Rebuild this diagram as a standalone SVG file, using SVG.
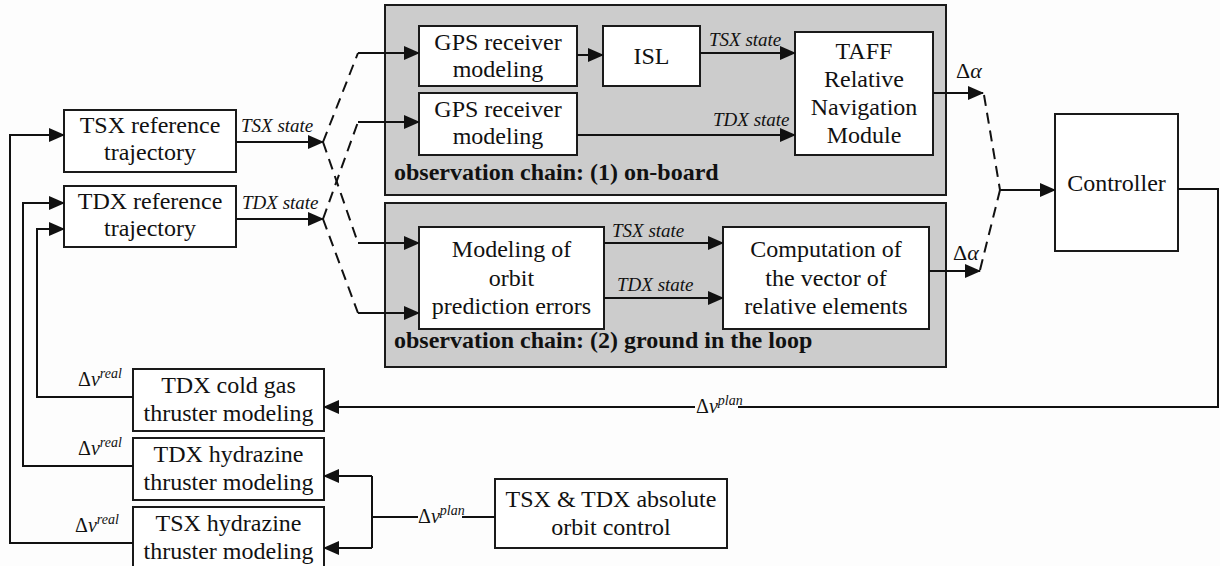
<svg xmlns="http://www.w3.org/2000/svg" width="1220" height="566" viewBox="0 0 1220 566">
<style>
.bg{fill:#fdfdfd}
.panel{fill:#cccccc;stroke:#1a1a1a;stroke-width:2}
.box{fill:#ffffff;stroke:#1a1a1a;stroke-width:2}
.t{font-family:"Liberation Serif","Times New Roman",serif;font-size:24px;fill:#111;text-anchor:middle}
.lbl{font-family:"Liberation Serif","Times New Roman",serif;font-size:19px;font-style:italic;fill:#111}
.bold{font-family:"Liberation Serif","Times New Roman",serif;font-size:24px;font-weight:bold;fill:#111}
.sym{font-family:"Liberation Serif","Times New Roman",serif;font-size:20px;fill:#111}
.da{font-family:"Liberation Serif","Times New Roman",serif;font-size:22px;fill:#111}
.ln{fill:none;stroke:#111;stroke-width:2}
.dash{fill:none;stroke:#111;stroke-width:2;stroke-dasharray:11 7}
</style>
<defs>
<marker id="ah" markerUnits="userSpaceOnUse" markerWidth="16" markerHeight="14" refX="15" refY="7" orient="auto">
<path d="M0,0 L16,7 L0,14 Z" fill="#111"/>
</marker>
</defs>
<rect class="bg" x="0" y="0" width="1220" height="566"/>

<g id="panel1">
<rect class="panel" x="385" y="5" width="561" height="190"/>
<text class="bold" x="394" y="180">observation chain: (1) on-board</text>
</g>
<g id="panel2">
<rect class="panel" x="385" y="203" width="561" height="164"/>
<text class="bold" x="394" y="348">observation chain: (2) ground in the loop</text>
</g>

<g id="tsxref">
<rect class="box" x="64" y="110" width="172" height="62"/>
<text class="t" x="150" y="133">TSX reference</text>
<text class="t" x="150" y="160">trajectory</text>
</g>
<g id="tdxref">
<rect class="box" x="64" y="186" width="172" height="61"/>
<text class="t" x="150" y="209">TDX reference</text>
<text class="t" x="150" y="236">trajectory</text>
</g>
<g id="gps1">
<rect class="box" x="419" y="26" width="158" height="60"/>
<text class="t" x="498" y="50">GPS receiver</text>
<text class="t" x="498" y="77">modeling</text>
</g>
<g id="isl">
<rect class="box" x="603" y="26" width="97" height="60"/>
<text class="t" x="651.5" y="64">ISL</text>
</g>
<g id="gps2">
<rect class="box" x="419" y="93" width="158" height="62"/>
<text class="t" x="498" y="117">GPS receiver</text>
<text class="t" x="498" y="144">modeling</text>
</g>
<g id="taff">
<rect class="box" x="795" y="32" width="138" height="123"/>
<text class="t" x="864" y="59">TAFF</text>
<text class="t" x="864" y="87">Relative</text>
<text class="t" x="864" y="115">Navigation</text>
<text class="t" x="864" y="143">Module</text>
</g>
<g id="modeling">
<rect class="box" x="419" y="227" width="185" height="102"/>
<text class="t" x="511.5" y="257">Modeling of</text>
<text class="t" x="511.5" y="286">orbit</text>
<text class="t" x="511.5" y="314">prediction errors</text>
</g>
<g id="computation">
<rect class="box" x="723" y="227" width="206" height="102"/>
<text class="t" x="826" y="257">Computation of</text>
<text class="t" x="826" y="286">the vector of</text>
<text class="t" x="826" y="314">relative elements</text>
</g>
<g id="controller">
<rect class="box" x="1055" y="114" width="123" height="137"/>
<text class="t" x="1116.5" y="191">Controller</text>
</g>
<g id="coldgas">
<rect class="box" x="133" y="369" width="191" height="62"/>
<text class="t" x="228.5" y="393">TDX cold gas</text>
<text class="t" x="228.5" y="421">thruster modeling</text>
</g>
<g id="tdxhyd">
<rect class="box" x="133" y="438" width="191" height="62"/>
<text class="t" x="228.5" y="462">TDX hydrazine</text>
<text class="t" x="228.5" y="490">thruster modeling</text>
</g>
<g id="tsxhyd">
<rect class="box" x="133" y="507" width="191" height="64"/>
<text class="t" x="228.5" y="531">TSX hydrazine</text>
<text class="t" x="228.5" y="559">thruster modeling</text>
</g>
<g id="absctrl">
<rect class="box" x="495" y="479" width="232" height="69"/>
<text class="t" x="611" y="507">TSX &amp; TDX absolute</text>
<text class="t" x="611" y="535">orbit control</text>
</g>

<g id="connectors">
<line class="ln" x1="236" y1="142" x2="323" y2="142" marker-end="url(#ah)"/>
<line class="ln" x1="236" y1="219" x2="323" y2="219" marker-end="url(#ah)"/>
<polyline class="dash" points="323,142 358,53"/>
<polyline class="dash" points="323,142 358,243"/>
<polyline class="dash" points="323,219 358,122"/>
<polyline class="dash" points="323,219 358,313"/>
<line class="ln" x1="358" y1="53" x2="419" y2="53" marker-end="url(#ah)"/>
<line class="ln" x1="358" y1="122" x2="419" y2="122" marker-end="url(#ah)"/>
<line class="ln" x1="358" y1="243" x2="419" y2="243" marker-end="url(#ah)"/>
<line class="ln" x1="358" y1="313" x2="419" y2="313" marker-end="url(#ah)"/>
<line class="ln" x1="577" y1="55" x2="603" y2="55" marker-end="url(#ah)"/>
<line class="ln" x1="700" y1="53" x2="795" y2="53" marker-end="url(#ah)"/>
<line class="ln" x1="577" y1="135" x2="795" y2="135" marker-end="url(#ah)"/>
<line class="ln" x1="604" y1="243" x2="723" y2="243" marker-end="url(#ah)"/>
<line class="ln" x1="604" y1="298" x2="723" y2="298" marker-end="url(#ah)"/>
<line class="ln" x1="933" y1="93" x2="983" y2="93" marker-end="url(#ah)"/>
<line class="ln" x1="929" y1="271" x2="980" y2="271" marker-end="url(#ah)"/>
<polyline class="dash" points="984,95 1000,190"/>
<polyline class="dash" points="980,270 1000,190"/>
<line class="ln" x1="1000" y1="190" x2="1055" y2="190" marker-end="url(#ah)"/>
<polyline class="ln" points="1178,189 1218,189 1218,407 738,407"/>
<line class="ln" x1="695" y1="407" x2="324" y2="407" marker-end="url(#ah)"/>
<line class="ln" x1="495" y1="517" x2="462" y2="517"/>
<polyline class="ln" points="418,517 372,517"/>
<polyline class="ln" points="372,476 372,548"/>
<line class="ln" x1="372" y1="476" x2="324" y2="476" marker-end="url(#ah)"/>
<line class="ln" x1="372" y1="548" x2="324" y2="548" marker-end="url(#ah)"/>
<polyline class="ln" points="133,397 37,397 37,229 64,229" marker-end="url(#ah)"/>
<polyline class="ln" points="133,466 23,466 23,203 64,203" marker-end="url(#ah)"/>
<polyline class="ln" points="133,543 10,543 10,135 64,135" marker-end="url(#ah)"/>
</g>

<g id="labels">
<text class="lbl" x="241" y="132">TSX state</text>
<text class="lbl" x="242" y="209">TDX state</text>
<text class="lbl" x="709" y="46">TSX state</text>
<text class="lbl" x="713" y="126">TDX state</text>
<text class="lbl" x="612" y="237">TSX state</text>
<text class="lbl" x="617" y="291">TDX state</text>
<text class="da" x="956" y="78">Δ<tspan font-style="italic">α</tspan></text>
<text class="da" x="953" y="260">Δ<tspan font-style="italic">α</tspan></text>
<text class="sym" x="696" y="413">Δ<tspan font-style="italic">v</tspan><tspan font-style="italic" font-size="14" dy="-8">plan</tspan></text>
<text class="sym" x="418" y="523">Δ<tspan font-style="italic">v</tspan><tspan font-style="italic" font-size="14" dy="-8">plan</tspan></text>
<text class="sym" x="78" y="386">Δ<tspan font-style="italic">v</tspan><tspan font-style="italic" font-size="14" dy="-8">real</tspan></text>
<text class="sym" x="78" y="455">Δ<tspan font-style="italic">v</tspan><tspan font-style="italic" font-size="14" dy="-8">real</tspan></text>
<text class="sym" x="75" y="532">Δ<tspan font-style="italic">v</tspan><tspan font-style="italic" font-size="14" dy="-8">real</tspan></text>
</g>
</svg>
